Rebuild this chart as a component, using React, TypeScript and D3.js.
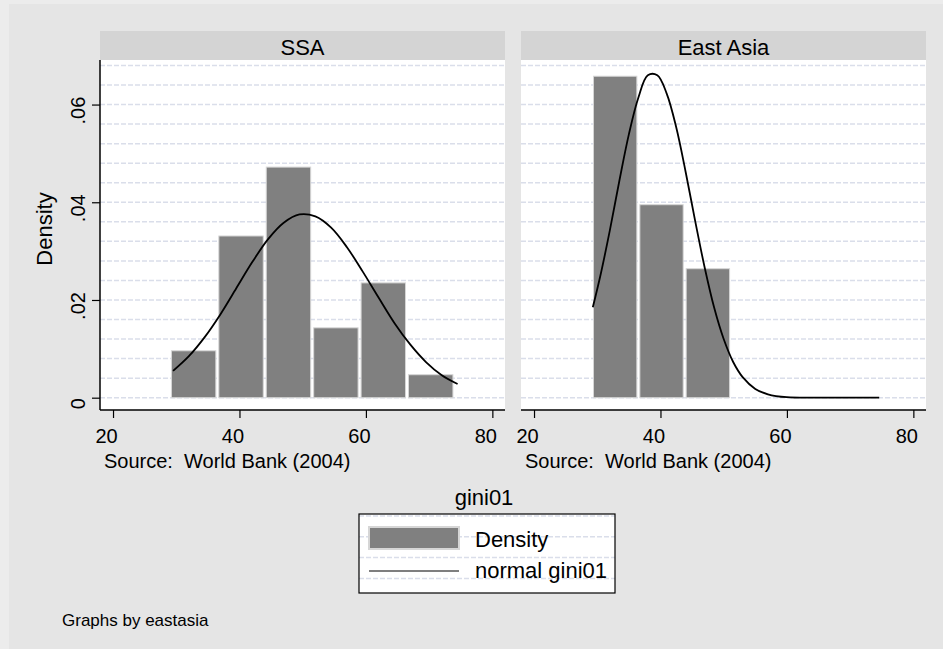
import { useEffect, useRef } from 'react';
import * as d3 from 'd3';

// bin edges and densities
const panels = ['SSA', 'East Asia'];
const ssaEdges = [29.0, 36.5, 44.0, 51.5, 59.0, 66.5, 74.0];
const ssaDensity = [0.0096, 0.0331, 0.0472, 0.0143, 0.0235, 0.0047];
const eaEdges = [29.17, 36.5, 43.83, 51.17];
const eaDensity = [0.0658, 0.0395, 0.0264];

// normal overlay, points
const ssaCurveX = [29.5, 32, 34.5, 37, 39.5, 42, 44.5, 47, 49.5, 52, 54.5, 57, 59.5, 62, 64.5, 67, 69.5, 72, 74.5];
const ssaCurveY = [0.0055, 0.0085, 0.0124, 0.0171, 0.0224, 0.0277, 0.0324, 0.0358, 0.0375, 0.0371, 0.0348, 0.0308, 0.0258, 0.0205, 0.0153, 0.0109, 0.0073, 0.0046, 0.0028];
const eaCurveX = [29.3, 30.5, 32, 33.5, 35, 36.5, 38, 39.5, 41, 42.5, 44, 45.5, 47, 48.5, 50, 51.5, 53, 55, 57, 60, 65, 70, 74.6];
const eaCurveY = [0.0185, 0.025, 0.0343, 0.0444, 0.0539, 0.0614, 0.0660, 0.0660, 0.0622, 0.0553, 0.0461, 0.0361, 0.0266, 0.0184, 0.012, 0.0073, 0.0042, 0.0018, 0.0007, 0.0001, 0, 0, 0];

const xTicks = [20, 40, 60, 80];
const yTicks = [0, 0.02, 0.04, 0.06];
const yTickLabels = ['0', '.02', '.04', '.06'];
const gridStep = 0.004;

const W = 943;
const H = 649;
const FONT = '"Liberation Sans", Arial, sans-serif';
const GRID = '#dadeea';

export default function App() {
  const svgRef = useRef<SVGSVGElement>(null);

  useEffect(() => {
    if (!svgRef.current) return;
    const svg = d3.select(svgRef.current);
    svg.selectAll('*').remove();

    svg.append('rect').attr('width', W).attr('height', H).attr('fill', '#ececec');
    svg.append('rect').attr('x', 9).attr('y', 4).attr('width', W - 9).attr('height', H - 4).attr('fill', '#e5e5e5');

    const plotTop = 60;
    const plotBottom = 410;
    const plotW = 405;
    const panelLeft = [100, 521];

    const y = d3.scaleLinear().domain([-0.00252, 0.06912]).range([plotBottom, plotTop]);
    const gridVals = d3.range(0, 0.0685, gridStep);

    const data = [
      { edges: ssaEdges, dens: ssaDensity, cx: ssaCurveX, cy: ssaCurveY },
      { edges: eaEdges, dens: eaDensity, cx: eaCurveX, cy: eaCurveY },
    ];

    panels.forEach((name, p) => {
      const left = panelLeft[p];
      const x = d3.scaleLinear().domain([17.94, 82.0]).range([left, left + plotW]);
      const d = data[p];

      // header strip
      svg.append('rect')
        .attr('x', left).attr('y', 31).attr('width', plotW).attr('height', 29)
        .attr('fill', '#d4d4d4');
      svg.append('text')
        .attr('x', left + plotW / 2).attr('y', 47)
        .attr('text-anchor', 'middle').attr('dominant-baseline', 'central')
        .attr('font-family', FONT).attr('font-size', 22)
        .text(name);

      // plot region
      svg.append('rect')
        .attr('x', left).attr('y', plotTop).attr('width', plotW).attr('height', plotBottom - plotTop)
        .attr('fill', '#ffffff');

      svg.append('g').selectAll('line').data(gridVals).join('line')
        .attr('x1', left).attr('x2', left + plotW)
        .attr('y1', v => y(v)).attr('y2', v => y(v))
        .attr('stroke', GRID).attr('stroke-width', 1.5)
        .attr('stroke-dasharray', '5,2');

      // bars
      const bins = d.dens.map((v, i) => ({ x0: d.edges[i], x1: d.edges[i + 1], v }));
      svg.append('g').selectAll('rect').data(bins).join('rect')
        .attr('x', b => x(b.x0) + 1.5)
        .attr('width', b => x(b.x1) - x(b.x0) - 3)
        .attr('y', b => y(b.v))
        .attr('height', b => y(0) - y(b.v))
        .attr('fill', '#808080')
        .attr('stroke', '#d6d6d6').attr('stroke-width', 1);

      // normal curve
      const pts = d.cx.map((v, i) => [v, d.cy[i]] as [number, number]);
      const line = d3.line<[number, number]>()
        .x(q => x(q[0])).y(q => y(q[1]))
        .curve(d3.curveCatmullRom);
      svg.append('path').attr('d', line(pts))
        .attr('fill', 'none').attr('stroke', '#000').attr('stroke-width', 1.8);

      // x axis
      const xa = svg.append('g').attr('transform', `translate(0,${plotBottom})`)
        .call(d3.axisBottom(x).tickValues(xTicks).tickSize(8).tickPadding(11).tickFormat(d3.format('d')));
      xa.select('.domain').attr('d', `M${left},0H${left + plotW}`).attr('stroke', '#000').attr('stroke-width', 1.5);
      xa.selectAll('.tick line').attr('stroke', '#000').attr('stroke-width', 1.2);
      xa.selectAll('.tick text')
        .attr('x', -7)
        .attr('font-family', FONT).attr('font-size', 20).attr('fill', '#000');

      svg.append('text')
        .attr('x', left + 4).attr('y', 461)
        .attr('dominant-baseline', 'central')
        .attr('font-family', FONT).attr('font-size', 20)
        .attr('xml:space', 'preserve')
        .text('Source:  World Bank (2004)');

      if (p === 0) {
        const ya = svg.append('g').attr('transform', `translate(${left},0)`)
          .call(d3.axisLeft(y).tickValues(yTicks).tickSize(8).tickFormat(''));
        ya.select('.domain').attr('d', `M0,${plotTop}V${plotBottom}`).attr('stroke', '#000').attr('stroke-width', 1.5);
        ya.selectAll('.tick line').attr('stroke', '#000').attr('stroke-width', 1.2);
        yTicks.forEach((t, i) => {
          svg.append('text')
            .attr('transform', `translate(78,${y(t) + 6}) rotate(-90)`)
            .attr('text-anchor', 'middle').attr('dominant-baseline', 'central')
            .attr('font-family', FONT).attr('font-size', 20)
            .text(yTickLabels[i]);
        });
        svg.append('text')
          .attr('transform', `translate(44,229) rotate(-90)`)
          .attr('text-anchor', 'middle').attr('dominant-baseline', 'central')
          .attr('font-family', FONT).attr('font-size', 22)
          .text('Density');
      }
    });

    // x title
    svg.append('text')
      .attr('x', 484).attr('y', 497)
      .attr('text-anchor', 'middle').attr('dominant-baseline', 'central')
      .attr('font-family', FONT).attr('font-size', 22)
      .text('gini01');

    // legend
    const lg = { x: 359, y: 514, w: 256, h: 79 };
    const legend = svg.append('g');
    legend.append('rect')
      .attr('x', lg.x).attr('y', lg.y).attr('width', lg.w).attr('height', lg.h)
      .attr('fill', '#fff');
    legend.selectAll('line.grid').data(d3.range(4)).join('line')
      .attr('class', 'grid')
      .attr('x1', lg.x).attr('x2', lg.x + lg.w)
      .attr('y1', k => lg.y + 2 + k * 20.8).attr('y2', k => lg.y + 2 + k * 20.8)
      .attr('stroke', GRID).attr('stroke-width', 1.5).attr('stroke-dasharray', '5,2');
    legend.append('rect')
      .attr('x', lg.x).attr('y', lg.y).attr('width', lg.w).attr('height', lg.h)
      .attr('fill', 'none').attr('stroke', '#000').attr('stroke-width', 1.2);
    legend.append('rect')
      .attr('x', lg.x + 10).attr('y', lg.y + 13).attr('width', 90).attr('height', 22)
      .attr('fill', '#808080').attr('stroke', '#d6d6d6').attr('stroke-width', 2);
    legend.append('line')
      .attr('x1', lg.x + 10).attr('x2', lg.x + 100)
      .attr('y1', lg.y + 57).attr('y2', lg.y + 57)
      .attr('stroke', '#000').attr('stroke-width', 1.2);
    legend.append('text')
      .attr('x', lg.x + 116).attr('y', lg.y + 25)
      .attr('dominant-baseline', 'central')
      .attr('font-family', FONT).attr('font-size', 22)
      .text('Density');
    legend.append('text')
      .attr('x', lg.x + 116).attr('y', lg.y + 56)
      .attr('dominant-baseline', 'central')
      .attr('font-family', FONT).attr('font-size', 22)
      .text('normal gini01');

    svg.append('text')
      .attr('x', 62).attr('y', 620)
      .attr('dominant-baseline', 'central')
      .attr('font-family', FONT).attr('font-size', 17)
      .text('Graphs by eastasia');
  }, []);

  return (
    <div style={{ position: 'absolute', left: 0, top: 0 }}>
      <svg ref={svgRef} width={W} height={H} style={{ display: 'block' }}></svg>
    </div>
  );
}
